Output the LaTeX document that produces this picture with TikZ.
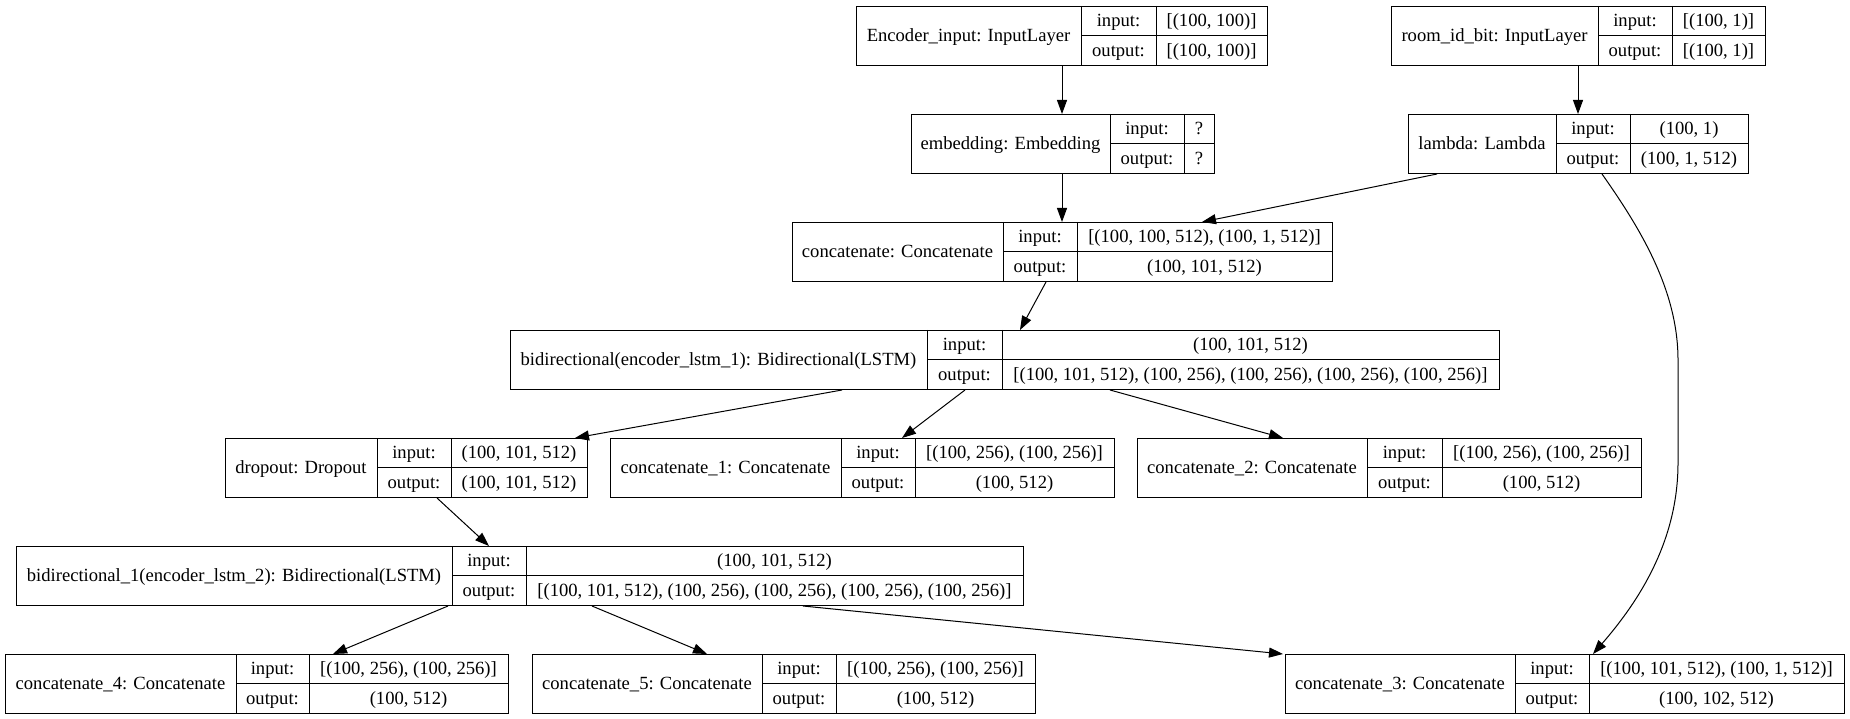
\documentclass[tikz,border=0pt]{standalone}
\usepackage{fontspec}
\setmainfont{Liberation Serif}
\usetikzlibrary{arrows.meta}
\tikzset{
  box/.style={draw=black, line width=1pt, inner sep=0pt, anchor=north west},
  txt/.style={inner sep=0pt, anchor=base, font=\fontsize{18.6}{22}\selectfont},
  divider/.style={draw=black, line width=1pt},
  arr/.style={draw=black, line width=1pt, -{Triangle[length=14pt,width=10pt]}},
}
% name, x1 (left), x2 (label|io divider), x3 (io|value divider), x4 (right), ytop, label, in, out
\newcommand\mlayer[9]{%
  \node[box, minimum width={(#5-#2)*1pt}, minimum height=59pt] (#1) at (#2,#6) {};
  \draw[divider] (#3,#6) -- (#3,{#6+59});
  \draw[divider] (#4,#6) -- (#4,{#6+59});
  \draw[divider] (#3,{#6+29.5}) -- (#5,{#6+29.5});
  \node[txt] (#1-l) at ({(#2+#3)/2},{#6+29.5+6}) {#7};
  \node[txt] (#1-i) at ({(#3+#4)/2},{#6+14.75+6}) {input:};
  \node[txt] (#1-o) at ({(#3+#4)/2},{#6+44.25+6}) {output:};
  \node[txt] (#1-iv) at ({(#4+#5)/2},{#6+14.75+6}) {#8};
  \node[txt] (#1-ov) at ({(#4+#5)/2},{#6+44.25+6}) {#9};
}
% from, x on from's bottom edge (absolute), to, x on to's top edge (absolute)
\newcommand\conn[4]{%
  \draw[arr] ([xshift={(#2)*1pt}]#1.south west) -- ([xshift={(#4)*1pt}]#3.north west);
}
\begin{document}
\begin{tikzpicture}[x=1pt, y=-1pt]
\useasboundingbox (0,0) rectangle (1850,719);
\fill[white] (0,0) rectangle (1850,719);

\mlayer{enc}{856}{1081}{1156}{1267}{6}{Encoder\_input: InputLayer}{[(100, 100)]}{[(100, 100)]}
\mlayer{room}{1391}{1598}{1672}{1765}{6}{room\_id\_bit: InputLayer}{[(100, 1)]}{[(100, 1)]}
\mlayer{emb}{911}{1110}{1184}{1214}{114}{embedding: Embedding}{?}{?}
\mlayer{lam}{1408}{1556}{1630}{1748}{114}{lambda: Lambda}{(100, 1)}{(100, 1, 512)}
\mlayer{cat}{792}{1003}{1077}{1332}{222}{concatenate: Concatenate}{[(100, 100, 512), (100, 1, 512)]}{(100, 101, 512)}
\mlayer{bi}{510}{927}{1002}{1499}{330}{bidirectional(encoder\_lstm\_1): Bidirectional(LSTM)}{(100, 101, 512)}{[(100, 101, 512), (100, 256), (100, 256), (100, 256), (100, 256)]}
\mlayer{drop}{225}{377}{451}{587}{438}{dropout: Dropout}{(100, 101, 512)}{(100, 101, 512)}
\mlayer{cata}{610}{841}{915}{1114}{438}{concatenate\_1: Concatenate}{[(100, 256), (100, 256)]}{(100, 512)}
\mlayer{catb}{1137}{1367}{1442}{1641}{438}{concatenate\_2: Concatenate}{[(100, 256), (100, 256)]}{(100, 512)}
\mlayer{bia}{16}{452}{526}{1023}{546}{bidirectional\_1(encoder\_lstm\_2): Bidirectional(LSTM)}{(100, 101, 512)}{[(100, 101, 512), (100, 256), (100, 256), (100, 256), (100, 256)]}
\mlayer{catd}{5}{236}{309}{508}{654}{concatenate\_4: Concatenate}{[(100, 256), (100, 256)]}{(100, 512)}
\mlayer{cate}{532}{762}{836}{1035}{654}{concatenate\_5: Concatenate}{[(100, 256), (100, 256)]}{(100, 512)}
\mlayer{catc}{1285}{1515}{1589}{1844}{654}{concatenate\_3: Concatenate}{[(100, 101, 512), (100, 1, 512)]}{(100, 102, 512)}

\conn{enc}{1062-856}{emb}{1062-911}
\conn{room}{1578-1391}{lam}{1578-1408}
\conn{emb}{1062-911}{cat}{1062-792}
\conn{lam}{1437-1408}{cat}{1202-792}
\conn{cat}{1046-792}{bi}{1020-510}
\conn{bi}{842-510}{drop}{575-225}
\conn{bi}{965-510}{cata}{902-610}
\conn{bi}{1110-510}{catb}{1283-1137}
\conn{drop}{437-225}{bia}{489-16}
\conn{bia}{448-16}{catd}{333-5}
\conn{bia}{592-16}{cate}{707-532}
\conn{bia}{803-16}{catc}{1283-1285}

\draw[arr] ([xshift=194pt]lam.south west)
  .. controls (1640,228) and (1678,290) .. (1678,360)
  -- (1678,463)
  .. controls (1678,540) and (1640,600) .. ([xshift=308pt]catc.north west);
\end{tikzpicture}
\end{document}
